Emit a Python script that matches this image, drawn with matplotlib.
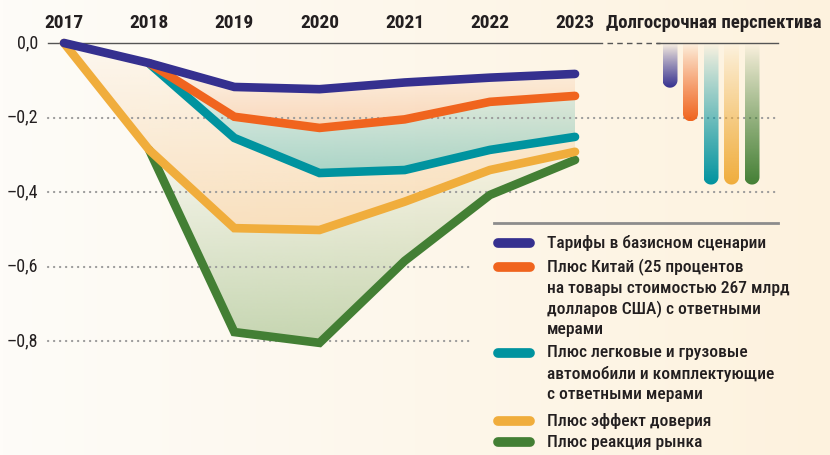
import numpy as np
import matplotlib
matplotlib.use("Agg")
import matplotlib.pyplot as plt
from matplotlib import font_manager
from matplotlib.path import Path
from matplotlib.patches import PathPatch

# Data
years = [2017, 2018, 2019, 2020, 2021, 2022, 2023]
base = [0.0, -0.054, -0.118, -0.124, -0.106, -0.093, -0.083]
china = [0.0, -0.054, -0.198, -0.228, -0.205, -0.158, -0.142]
autos = [0.0, -0.055, -0.255, -0.349, -0.341, -0.287, -0.252]
confidence = [0.0, -0.287, -0.497, -0.502, -0.426, -0.341, -0.292]
market = [0.0, -0.287, -0.776, -0.805, -0.585, -0.408, -0.314]
longterm = [-0.12, -0.21, -0.38, -0.38, -0.38]
yticks = [0.0, -0.2, -0.4, -0.6, -0.8]
ytick_labels = ["0,0", "–0,2", "–0,4", "–0,6", "–0,8"]

labels = [
    ["Тарифы в базисном сценарии"],
    ["Плюс Китай (25 процентов", "на товары стоимостью 267 млрд",
     "долларов США) с ответными", "мерами"],
    ["Плюс легковые и грузовые", "автомобили и комплектующие",
     "с ответными мерами"],
    ["Плюс эффект доверия"],
    ["Плюс реакция рынка"],
]
colors = ["#35308f", "#f0641e", "#00939f", "#f0ad3c", "#437f34"]
lt_title = "Долгосрочная перспектива"

# pick a narrow font if there is one
fonts = font_manager.fontManager.ttflist
names = {f.name for f in fonts}
family, stretch = "DejaVu Sans", "normal"
for cand in ["Roboto Condensed", "PT Sans Narrow", "Liberation Sans Narrow"]:
    if cand in names:
        family = cand
        break
else:
    for cand in ["Roboto", "DejaVu Sans"]:
        if any(f.name == cand and f.stretch == "condensed" for f in fonts):
            family, stretch = cand, "condensed"
            break
plt.rcParams["font.family"] = [family, "DejaVu Sans"]
plt.rcParams["font.stretch"] = stretch
txt = "#231f20"

W, H = 830, 455
fig = plt.figure(figsize=(W / 100, H / 100), dpi=100)
ax = fig.add_axes([0, 0, 1, 1])

# axes limits chosen so that 2017 sits at x=64px, 0.0 at y=43px
xs_px = 85.17
ys_px = 372.5
X0 = 2017 - 64 / xs_px
X1 = X0 + W / xs_px
Y1 = 43 / ys_px
Y0 = Y1 - H / ys_px
ax.set_xlim(X0, X1)
ax.set_ylim(Y0, Y1)
ax.axis("off")


def px(x):
    return X0 + x / W * (X1 - X0)


def py(y):
    return Y1 - y / H * (Y1 - Y0)


# background gradient
bg = np.linspace(0, 1, 256)
c0 = np.array([254, 252, 248]) / 255
c1 = np.array([253, 242, 222]) / 255
bgimg = (c0[None, :] * (1 - bg[:, None]) + c1[None, :] * bg[:, None])[None, :, :]
ax.imshow(bgimg, extent=[X0, X1, Y0, Y1], aspect="auto", zorder=0)


def grad_fill(x, top, bot, color, a_top, a_bot):
    poly = ax.fill_between(x, top, bot, color="none", lw=0)
    path = poly.get_paths()[0]
    ymin, ymax = min(bot), max(top)
    rgb = matplotlib.colors.to_rgb(color)
    n = 200
    img = np.zeros((n, 1, 4))
    img[:, 0, :3] = rgb
    img[:, 0, 3] = np.linspace(a_top, a_bot, n)
    im = ax.imshow(img, extent=[min(x), max(x), ymin, ymax], aspect="auto",
                   origin="upper", zorder=1, interpolation="bilinear")
    patch = PathPatch(path, transform=ax.transData, facecolor="none", edgecolor="none")
    ax.add_patch(patch)
    im.set_clip_path(patch)


yrs = np.array(years, dtype=float)
grad_fill(yrs[1:], base[1:], china[1:], "#f4a468", 0.05, 0.4)
grad_fill(yrs[1:], china[1:], autos[1:], "#4fae9c", 0.05, 0.48)
grad_fill(yrs[:2], base[:2], confidence[:2], "#f6c386", 0.05, 0.3)
grad_fill(yrs[1:], autos[1:], confidence[1:], "#f3b76c", 0.08, 0.38)
grad_fill(yrs[1:], confidence[1:], market[1:], "#98b97e", 0.05, 0.55)

# grid lines
for v in yticks[1:]:
    xend = 778 if v > -0.5 else 470
    ax.plot([px(48), px(xend)], [v, v], color="#9a9a9a", lw=1.6,
            linestyle=(0, (0.1, 2.6)), dash_capstyle="round", zorder=1.5)
for v, lab in zip(yticks, ytick_labels):
    ax.text(px(38), v, lab, ha="right", va="center", fontsize=13, color=txt)

# top axis line
ax.plot([px(48), px(602)], [0, 0], color="#555555", lw=1, zorder=2)
ax.plot([px(607), px(660)], [0, 0], color="#555555", lw=1, ls=(0, (4, 3)), zorder=2)
ax.plot([px(657), px(778)], [0, 0], color="#555555", lw=1, zorder=2)

for y in years:
    ax.text(y, py(23), str(y), ha="center", va="center", fontsize=14,
            fontweight="bold", color=txt)
ax.text(px(714), py(23), lt_title, ha="center", va="center", fontsize=13.5,
        fontweight="bold", color=txt)

# series lines
series = [base, china, autos, confidence, market]
starts = [0, 1, 1, 0, 1]
for i in [4, 3, 2, 1, 0]:
    s = starts[i]
    ax.plot(yrs[s:], series[i][s:], color=colors[i], lw=6.2,
            solid_capstyle="round", solid_joinstyle="miter", zorder=3 + (4 - i) * 0.1)

# long-term bars
rx = 7.5 / xs_px
ry = 7.5 / ys_px
for k, (v, c) in enumerate(zip(longterm, colors)):
    xc = px(670 + 20.5 * k)
    yb = v + ry
    th = np.linspace(np.pi, 2 * np.pi, 30)
    verts = [(xc - rx, 0.0)]
    verts += [(xc + rx * np.cos(t), yb + ry * np.sin(t)) for t in th]
    verts += [(xc + rx, 0.0), (xc - rx, 0.0)]
    path = Path(verts, closed=True)
    rgb = matplotlib.colors.to_rgb(c)
    n = 200
    img = np.zeros((n, 1, 4))
    img[:, 0, :3] = rgb
    img[:, 0, 3] = np.linspace(0.0, 1.0, n) ** 0.9
    im = ax.imshow(img, extent=[xc - rx, xc + rx, v, 0], aspect="auto",
                   origin="upper", zorder=2.5, interpolation="bilinear")
    patch = PathPatch(path, transform=ax.transData, facecolor="none", edgecolor="none")
    ax.add_patch(patch)
    im.set_clip_path(patch)

ax.set_xlim(X0, X1)
ax.set_ylim(Y0, Y1)

# legend
ax.plot([px(494), px(778)], [py(223), py(223)], color="#8c8c8c", lw=2, zorder=2)
first_y = [243, 267, 353, 421, 442]
for lines, c, y0 in zip(labels, colors, first_y):
    ax.plot([px(498), px(530)], [py(y0), py(y0)], color=c, lw=7,
            solid_capstyle="round", zorder=4)
    for j, line in enumerate(lines):
        ax.text(px(547), py(y0 + 21 * j), line, ha="left", va="center",
                fontsize=12.6, fontweight="medium", color=txt, zorder=4)

fig.savefig("out.png", dpi=100)
